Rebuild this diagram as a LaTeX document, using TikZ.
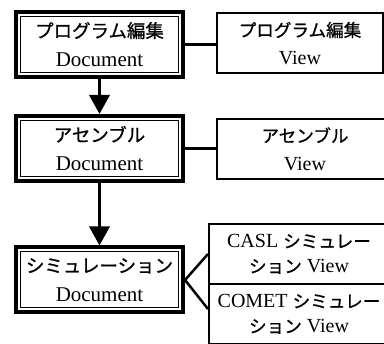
\documentclass[tikz,border=0pt]{standalone}
\usepackage{fontspec}
\setmainfont{Liberation Serif}
\newfontfamily\jp[Scale=0.88,FakeBold=0.8]{Noto Sans CJK JP}
\usetikzlibrary{arrows.meta}

\begin{document}
\begin{tikzpicture}[x=1pt,y=1pt]
\tikzstyle{every node}+=[inner sep=0pt,align=center,font=\fontsize{20}{28}\selectfont]
\tikzstyle{doc}=[draw,line width=4pt,minimum width=167pt,minimum height=65pt,font=\fontsize{21}{29}\selectfont]
\tikzstyle{view}=[draw,line width=2pt,minimum width=166pt,minimum height=60pt]
\tikzstyle{simview}=[view,minimum width=180pt,font=\fontsize{20}{25}\selectfont]
\tikzstyle{link}=[line width=2.5pt]
\tikzstyle{flow}=[line width=3.5pt,-{Triangle[length=19pt,width=20pt]}]
\useasboundingbox (0,0) rectangle (384,-344);
\clip (0,0) rectangle (384,-344);
\node [doc] (edit) at (99.5,-44.5) {{\jp プログラム編集}\\Document};
\node [doc] (asm) at (99.5,-148.5) {{\jp アセンブル}\\Document};
\node [doc] (sim) at (99.5,-280) {{\jp シミュレーション}\\Document};
\foreach \n in {edit,asm,sim}
  \draw [line width=1pt] ([shift={(6.5,-6.5)}]\n.north west) rectangle ([shift={(-6.5,6.5)}]\n.south east);
\node [view] (editv) at (300,-43.5) {{\jp プログラム編集}\\View};
\node [view,minimum width=176pt] (asmv) at (305,-149) {{\jp アセンブル}\\View};
\node [simview] (caslv) at (299,-254) {CASL {\jp シミュレー}\\{\jp ション} View};
\node [simview] (cometv) at (299,-314) {COMET {\jp シミュレー}\\{\jp ション} View};
\draw [flow] (edit) -- (asm);
\draw [flow] (asm) -- (sim);
\draw [link] (edit.east) -- (edit.east -| editv.west);
\draw [link] (asm.east) -- (asm.east -| asmv.west);
\draw [link] (caslv.west) -- (sim.east) -- ([yshift=5pt]cometv.west);
\end{tikzpicture}
\end{document}
